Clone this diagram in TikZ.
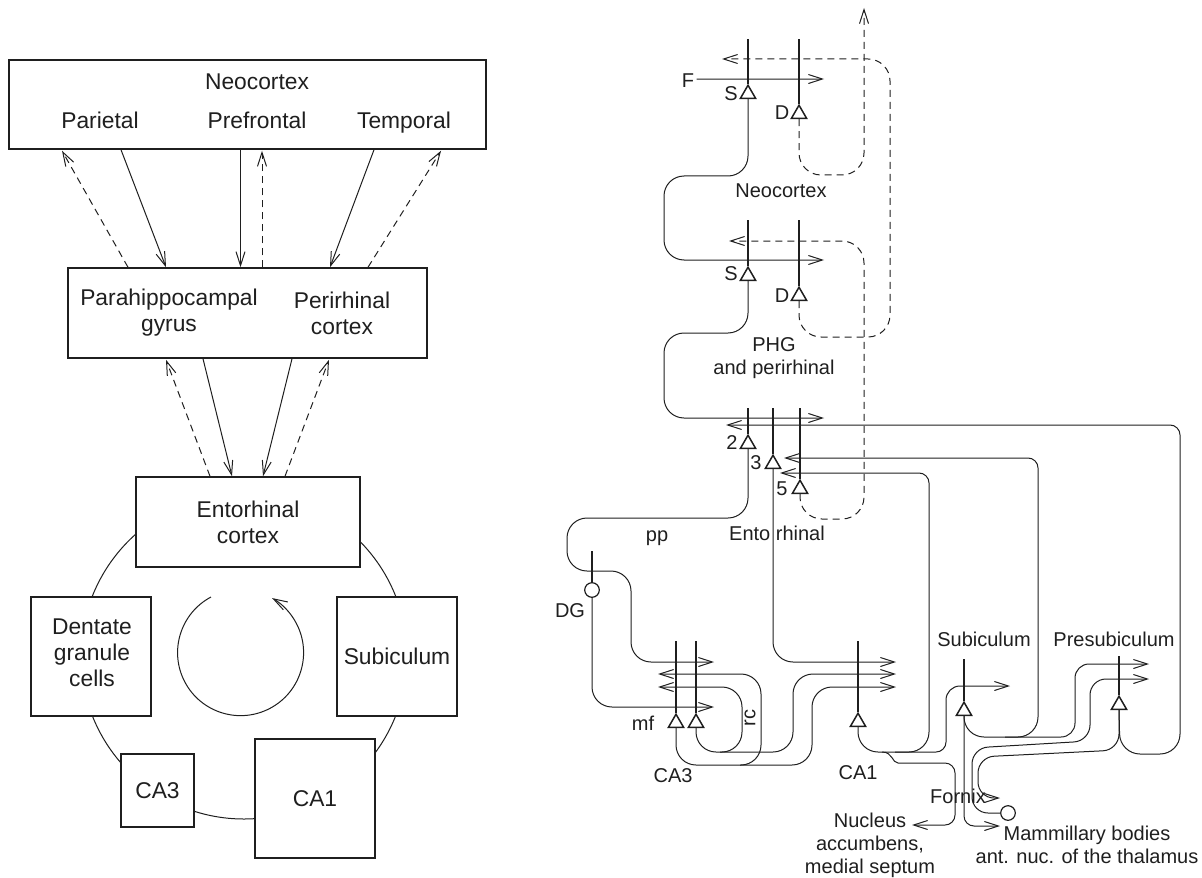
\documentclass[tikz,border=0pt]{standalone}
\usepackage{fontspec}
\setmainfont{Liberation Sans}
\usetikzlibrary{arrows.meta, calc, shapes.geometric}

\begin{document}
\begin{tikzpicture}[
    x=0.5pt, y=-0.5pt,
    color=black!88,
    >={Straight Barb[length=7pt,width=4.5pt]},
    area_node/.style={draw, fill=white, line width=0.75pt, align=center, inner sep=0pt, font=\fontsize{11.4}{13}\selectfont},
    big_label/.style={inner sep=0pt, align=center, font=\fontsize{11.4}{13}\selectfont},
    small_label/.style={inner sep=0pt, align=center, font=\fontsize{10}{11.5}\selectfont},
    ring_node/.style={draw, circle, line width=0.5pt, inner sep=0pt},
    tri_node/.style={draw, fill=white, regular polygon, regular polygon sides=3, inner sep=0pt, minimum size=8.8pt, line width=0.75pt},
    dot_node/.style={draw, fill=white, circle, inner sep=0pt, minimum size=7.3pt, line width=0.6pt},
    dend/.style={line width=0.7pt},
    arrow/.style={->, line width=0.5pt},
    dash_arrow/.style={->, line width=0.5pt, dash pattern=on 3.5pt off 2.5pt},
    axon/.style={line width=0.5pt, rounded corners=10pt},
    dash_axon/.style={->, line width=0.5pt, dash pattern=on 3.5pt off 2.5pt, rounded corners=11pt}
]
\useasboundingbox (0,0) rectangle (1202,877);

% Ring behind the boxes
\node[ring_node, minimum size=163pt] (ring) at (244,656) {};

% Left boxes
\node[area_node, minimum width=238.5pt, minimum height=44.5pt] (neo) at (247.5,104.5) {};
\node[area_node, minimum width=179.5pt, minimum height=45pt] (phg) at (247.5,313) {};
\node[area_node, minimum width=112pt, minimum height=45pt] (ento) at (248,522) {Entorhinal\\cortex};
\node[area_node, minimum width=60pt, minimum height=59.5pt] (dentate) at (91,656.5) {};
\node[area_node, minimum width=60pt, minimum height=59.5pt] (subic) at (397,656.5) {Subiculum};
\node[area_node, minimum width=36.5pt, minimum height=36.5pt] (cathree) at (157.5,790.5) {CA3};
\node[area_node, minimum width=60pt, minimum height=59.5pt] (caone) at (315,798.5) {CA1};

% Left labels
\node[big_label, anchor=base] (neo_title) at (257,90) {Neocortex};
\node[big_label, anchor=base] (parietal) at (100,129) {Parietal};
\node[big_label, anchor=base] (prefrontal) at (257,129) {Prefrontal};
\node[big_label, anchor=base] (temporal) at (404,129) {Temporal};
\node[big_label] (parahip) at (169,313) {Parahippocampal\\gyrus};
\node[big_label] (perirh) at (342,313) {Perirhinal\\cortex};
\node[big_label] (dentate_lab) at (92,653) {Dentate\\granule\\cells};

% Neocortex <-> PHG
\draw[dash_arrow] ($(phg.north)+(-119.5,0)$) -- ($(neo.south)+(-185.5,1)$);
\draw[arrow] ($(neo.south)+(-126.5,0)$) -- ($(phg.north)+(-81.5,0)$);
\draw[arrow] ($(neo.south)+(-7,0)$) -- ($(phg.north)+(-7,0)$);
\draw[dash_arrow] ($(phg.north)+(14.5,0)$) -- ($(neo.south)+(14.5,1)$);
\draw[arrow] ($(neo.south)+(126.5,0)$) -- ($(phg.north)+(82.5,0)$);
\draw[dash_arrow] ($(phg.north)+(120.5,0)$) -- ($(neo.south)+(193.5,1)$);

% PHG <-> Entorhinal
\draw[dash_arrow] ($(ento.north)+(-38,0)$) -- ($(phg.south)+(-81.5,1)$);
\draw[arrow] ($(phg.south)+(-44.5,0)$) -- ($(ento.north)+(-16,0)$);
\draw[arrow] ($(phg.south)+(44.5,0)$) -- ($(ento.north)+(15,0)$);
\draw[dash_arrow] ($(ento.north)+(37,0)$) -- ($(phg.south)+(81.5,1)$);

% Inner cycle
\coordinate (cycle_start) at (211,597);
\draw[arrow] (cycle_start) arc[start angle=118, end angle=420, radius=31.5pt];

% Cells, neocortex
\node[tri_node] (s_one) at (748,94) {};
\node[tri_node] (d_one) at (799,114) {};
\node[tri_node] (s_two) at (748,276) {};
\node[tri_node] (d_two) at (799,296) {};
% Cells, entorhinal
\node[tri_node] (e_two) at (748,444) {};
\node[tri_node] (e_three) at (773,464) {};
\node[tri_node] (e_five) at (800,489) {};
% Cells, hippocampus
\node[dot_node] (dg) at (592,590) {};
\node[tri_node] (ca_a) at (676,723) {};
\node[tri_node] (ca_b) at (696,723) {};
\node[tri_node] (ca_c) at (858,722) {};
\node[tri_node] (sub_c) at (964,711) {};
\node[tri_node] (pre_c) at (1119,705) {};
\node[dot_node] (mb) at (1008,813) {};

% Dendrites
\draw[dend] (s_one.north) -- ++(0,-45);
\draw[dend] (d_one.north) -- ++(0,-65);
\draw[dend] (s_two.north) -- ++(0,-46);
\draw[dend] (d_two.north) -- ++(0,-66);
\draw[dend] (e_two.north) -- ++(0,-26);
\draw[dend] (e_three.north) -- ++(0,-46);
\draw[dend] (e_five.north) -- ++(0,-71);
\draw[dend] (dg.north) -- ++(0,-31);
\draw[dend] (ca_a.north) -- ++(0,-72);
\draw[dend] (ca_b.north) -- ++(0,-72);
\draw[dend] (ca_c.north) -- ++(0,-71);
\draw[dend] (sub_c.north) -- ++(0,-42);
\draw[dend] (pre_c.north) -- ++(0,-39);

% Right labels
\node[small_label, anchor=base] (f_lab) at (688,88) {F};
\node[small_label, anchor=base] (s_lab) at (731,101) {S};
\node[small_label, anchor=base] (d_lab) at (782,120) {D};
\node[small_label, anchor=base] (neo_lab) at (781,198) {Neocortex};
\node[small_label, anchor=base] (s_lab_b) at (731,280) {S};
\node[small_label, anchor=base] (d_lab_b) at (782,302) {D};
\node[small_label] (phg_lab) at (774,358) {PHG\\and perirhinal};
\node[small_label, anchor=base] (two_lab) at (732,449) {2};
\node[small_label, anchor=base] (three_lab) at (756,469) {3};
\node[small_label, anchor=base] (five_lab) at (782,495) {5};
\node[small_label, anchor=base] (pp_lab) at (657,541) {pp};
\node[small_label, anchor=base] (ento_lab) at (777,540) {Ento rhinal};
\node[small_label, anchor=base] (dg_lab) at (570,617) {DG};
\node[small_label, anchor=base] (mf_lab) at (643,730) {mf};
\node[small_label, rotate=90] (rc_lab) at (750,718) {rc};
\node[small_label, anchor=base] (ca3_lab) at (673,782) {CA3};
\node[small_label, anchor=base] (ca1_lab) at (858,779) {CA1};
\node[small_label, anchor=base] (sub_lab) at (984,646) {Subiculum};
\node[small_label, anchor=base] (pre_lab) at (1114,646) {Presubiculum};
\node[small_label, anchor=base] (fornix_lab) at (958,803) {Fornix};
\node[small_label] (nuc_lab) at (870,845) {Nucleus\\accumbens,\\medial septum};
\node[small_label] (mam_lab) at (1087,845) {Mammillary bodies\\ant. nuc. of the thalamus};

% Neocortex and PHG projections
\draw[arrow] (f_lab.east) ++(2,-2) -- (824,79);
\draw[dash_axon] (d_one.south) -- (799,175) -- (864,175) -- (864,8);
\draw[dash_axon] (d_two.south) -- (799,337) -- (890,337) -- (890,59) -- (722,59);
\draw[dash_axon] (e_five.south) -- (800,519) -- (864,519) -- (864,241) -- (729,241);
\draw[axon, ->] (s_one.south) -- (748,176) -- (664,176) -- (664,260) -- (824,260);
\draw[axon, ->] (s_two.south) -- (748,333) -- (664,333) -- (664,418) -- (824,418);

% Perforant path
\draw[axon, ->] (e_two.south) -- (748,518) -- (567,518) -- (567,571) -- (631,571) -- (631,662) -- (714,662);
\draw[axon, ->] (dg.south) -- (592,707) -- (714,707);
\draw[axon, ->] (e_three.south) -- (773,662) -- (896,662);

% CA3 collaterals
\draw[axon, ->] (ca_a.south) -- (676,765) -- (761,765) -- (761,674) -- (658,674);
\draw[axon, ->] (ca_b.south) -- (696,752) -- (742,752) -- (742,687) -- (658,687);
\draw[axon, ->] (720,752) -- (793,752) -- (793,674) -- (896,674);
\draw[axon, ->] (740,765) -- (812,765) -- (812,687) -- (896,687);

% CA1 output
\draw[axon, ->] (ca_c.south) -- (858,752) -- (929,752) [rounded corners=5pt] -- (929,473) -- (780,473);
\draw[axon, ->, rounded corners=5pt] (895,752) -- (946,752) [rounded corners=7pt] -- (946,686) -- (1010,686);
\draw[axon, ->, rounded corners=5pt] (882,752) .. controls (893,752) and (892,763) .. (908,763) -- (955,763) -- (955,825) -- (912,825);

% Subiculum output
\draw[axon, ->] (sub_c.south) -- (964,737) -- (1038,737) [rounded corners=5pt] -- (1038,458) -- (784,458);
\draw[axon, ->, rounded corners=7pt] (1005,737) -- (1075,737) -- (1075,664) -- (1149,664);
\draw[axon, ->, rounded corners=5pt] (sub_c.south) -- (964,826) -- (1000,826);

% Mammillary and presubiculum
\draw[axon, ->, rounded corners=8pt] (mb.west) -- (972,813) -- (972,748) -- (1090,741) -- (1090,679) -- (1149,679);
\draw[axon, ->, rounded corners=8pt] (pre_c.south) -- (1119,750) -- (978,757) -- (978,798) -- (1000,798);
\draw[axon, ->] (pre_c.south) -- (1120,754) -- (1180,754) [rounded corners=5pt] -- (1180,425) -- (726,425);

\end{tikzpicture}
\end{document}
